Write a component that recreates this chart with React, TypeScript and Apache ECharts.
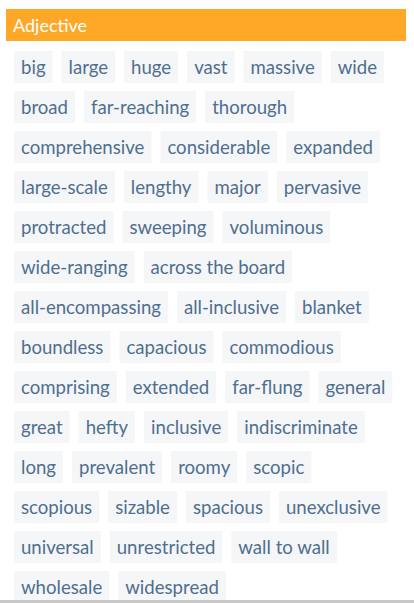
import React, { useEffect, useRef } from "react";
import * as echarts from "echarts";

const title = "Adjective";
const rows = [
  ["big", "large", "huge", "vast", "massive", "wide"],
  ["broad", "far-reaching", "thorough"],
  ["comprehensive", "considerable", "expanded"],
  ["large-scale", "lengthy", "major", "pervasive"],
  ["protracted", "sweeping", "voluminous"],
  ["wide-ranging", "across the board"],
  ["all-encompassing", "all-inclusive", "blanket"],
  ["boundless", "capacious", "commodious"],
  ["comprising", "extended", "far-flung", "general"],
  ["great", "hefty", "inclusive", "indiscriminate"],
  ["long", "prevalent", "roomy", "scopic"],
  ["scopious", "sizable", "spacious", "unexclusive"],
  ["universal", "unrestricted", "wall to wall"],
  ["wholesale", "widespread"],
];

const FONT = "18.6px Lato";

const App: React.FC = () => {
  const chartRef = useRef<HTMLDivElement>(null);

  useEffect(() => {
    const chart = echarts.init(chartRef.current!, null, { renderer: "svg" });
    const ctx = document.createElement("canvas").getContext("2d")!;
    ctx.font = FONT;

    const elements: any[] = [
      { type: "rect", shape: { x: 6, y: 9, width: 400, height: 32 }, style: { fill: "#ffa726" } },
      {
        type: "text", x: 13, y: 25,
        style: { text: title, fill: "#fff", font: "18px Lato", verticalAlign: "middle" },
      },
    ];

    const pad = 7;
    const gap = 9;
    rows.forEach((row, r) => {
      let x = 14;
      const y = 51 + r * 40;
      row.forEach((w) => {
        const tw = ctx.measureText(w).width + pad * 2;
        elements.push({
          type: "rect", shape: { x, y, width: tw, height: 32 }, style: { fill: "#f5f6f8" },
        });
        elements.push({
          type: "text", x: x + pad, y: y + 16,
          style: { text: w, fill: "#4f6f8f", font: FONT, verticalAlign: "middle" },
        });
        x += tw + gap;
      });
    });
    elements.push({ type: "rect", shape: { x: 0, y: 600, width: 414, height: 3 }, style: { fill: "#c8c8c8" } });

    chart.setOption({ animation: false, graphic: { elements } });
    return () => chart.dispose();
  }, []);

  return <div ref={chartRef} style={{ position: "absolute", left: 0, top: 0, width: 414, height: 603 }} />;
};

export default App;
